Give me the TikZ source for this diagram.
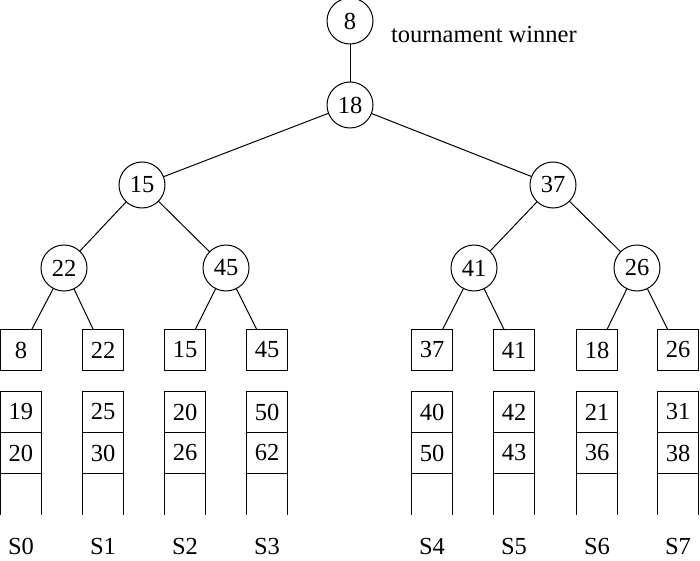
\documentclass[tikz,border=0pt]{standalone}
\usepackage{fontspec}
\setmainfont{Liberation Serif}
\usetikzlibrary{positioning}

\begin{document}
\begin{tikzpicture}[x=1pt, y=-1pt, line width=1pt, node distance=21pt, every node/.style={font=\fontsize{24.5}{29}\selectfont, inner sep=0pt, outer sep=0pt}, knot/.style={circle,draw,minimum size=46pt}, leaf/.style={draw,minimum size=41pt}, hole/.style={minimum size=41pt}]
\useasboundingbox (0,0) rectangle (700,561);
% tree of winners
\node[knot] (w) at (350,21) {8};
\node[anchor=base west] (wtext) at (391,43) {tournament winner};
\node[knot] (r) at (350,105) {18};
\node[knot] (u0) at (142,185) {15};
\node[knot] (u1) at (553,185) {37};
\node[knot] (v0) at (64,268) {22};
\node[knot] (v1) at (226,268) {45};
\node[knot] (v2) at (474,268) {41};
\node[knot] (v3) at (637,268) {26};
% leaves
\node[leaf] (l0) at (21,350) {8};
\node[leaf] (l1) at (103,350) {22};
\node[leaf] (l2) at (185,350) {15};
\node[leaf] (l3) at (267,350) {45};
\node[leaf] (l4) at (432,350) {37};
\node[leaf] (l5) at (514,350) {41};
\node[leaf] (l6) at (597,350) {18};
\node[leaf] (l7) at (678,350) {26};
\draw (w) -- (r);
\draw (r) -- (u0);
\draw (r) -- (u1);
\draw (u0) -- (v0);
\draw (u0) -- (v1);
\draw (u1) -- (v2);
\draw (u1) -- (v3);
\draw (v0) -- (l0);
\draw (v0) -- (l1);
\draw (v1) -- (l2);
\draw (v1) -- (l3);
\draw (v2) -- (l4);
\draw (v2) -- (l5);
\draw (v3) -- (l6);
\draw (v3) -- (l7);
% sorted runs
\node[leaf] (a0) [below=of l0] {19};
\node[leaf] (b0) [below=0pt of a0] {20};
\node[hole] (c0) [below=0pt of b0] {};
\node[leaf] (a1) [below=of l1] {25};
\node[leaf] (b1) [below=0pt of a1] {30};
\node[hole] (c1) [below=0pt of b1] {};
\node[leaf] (a2) [below=of l2] {20};
\node[leaf] (b2) [below=0pt of a2] {26};
\node[hole] (c2) [below=0pt of b2] {};
\node[leaf] (a3) [below=of l3] {50};
\node[leaf] (b3) [below=0pt of a3] {62};
\node[hole] (c3) [below=0pt of b3] {};
\node[leaf] (a4) [below=of l4] {40};
\node[leaf] (b4) [below=0pt of a4] {50};
\node[hole] (c4) [below=0pt of b4] {};
\node[leaf] (a5) [below=of l5] {42};
\node[leaf] (b5) [below=0pt of a5] {43};
\node[hole] (c5) [below=0pt of b5] {};
\node[leaf] (a6) [below=of l6] {21};
\node[leaf] (b6) [below=0pt of a6] {36};
\node[hole] (c6) [below=0pt of b6] {};
\node[leaf] (a7) [below=of l7] {31};
\node[leaf] (b7) [below=0pt of a7] {38};
\node[hole] (c7) [below=0pt of b7] {};
\draw (c0.north west) -- (c0.south west) (c0.north east) -- (c0.south east);
\draw (c1.north west) -- (c1.south west) (c1.north east) -- (c1.south east);
\draw (c2.north west) -- (c2.south west) (c2.north east) -- (c2.south east);
\draw (c3.north west) -- (c3.south west) (c3.north east) -- (c3.south east);
\draw (c4.north west) -- (c4.south west) (c4.north east) -- (c4.south east);
\draw (c5.north west) -- (c5.south west) (c5.north east) -- (c5.south east);
\draw (c6.north west) -- (c6.south west) (c6.north east) -- (c6.south east);
\draw (c7.north west) -- (c7.south west) (c7.north east) -- (c7.south east);
\node (s0) [below=24pt of c0] {S0};
\node (s1) [below=24pt of c1] {S1};
\node (s2) [below=24pt of c2] {S2};
\node (s3) [below=24pt of c3] {S3};
\node (s4) [below=24pt of c4] {S4};
\node (s5) [below=24pt of c5] {S5};
\node (s6) [below=24pt of c6] {S6};
\node (s7) [below=24pt of c7] {S7};
\end{tikzpicture}
\end{document}
